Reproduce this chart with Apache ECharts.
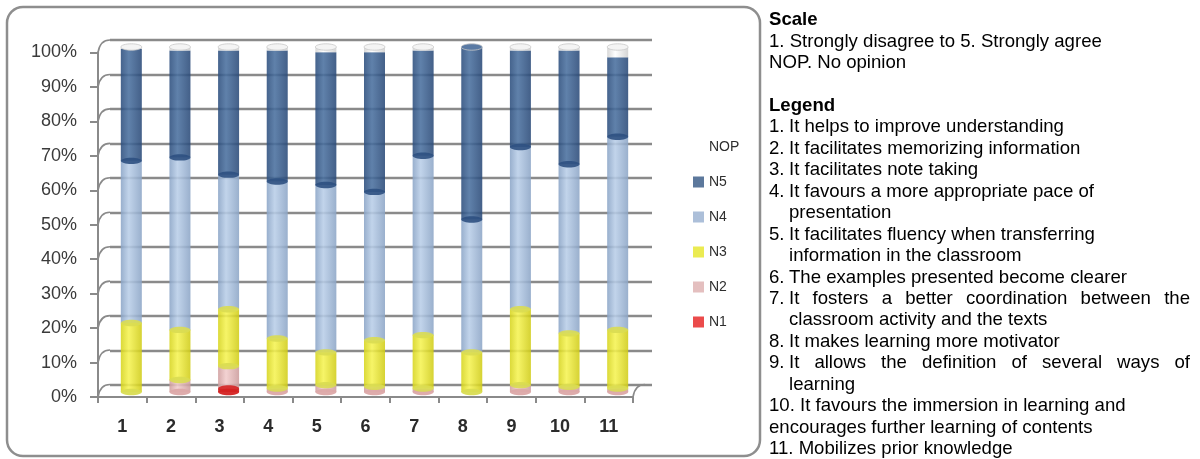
<!DOCTYPE html>
<html>
<head>
<meta charset="utf-8">
<script src="https://cdn.jsdelivr.net/npm/echarts@6/dist/echarts.min.js"></script>
<style>
  html, body { margin: 0; padding: 0; background: #ffffff; }
  #chart { width: 1200px; height: 459px; }
</style>
</head>
<body>
<div id="chart"></div>
<script>
// Survey items (1..11) and the share of answers on each level of the scale (%)
const categories = ['1', '2', '3', '4', '5', '6', '7', '8', '9', '10', '11'];
const n1  = [0,    0,    1,    0,    0,    0,    0,    0,    0,    0,    0];
const n2  = [0,    3.5,  6.5,  1,    2,    1.5,  1,    0,    2,    1.5,  1];
const n3  = [20,   14.5, 16.5, 14.5, 9.5,  13.5, 15.5, 11.5, 22,   15.5, 17];
const n4  = [47,   50,   39,   45.5, 48.5, 43,   52,   38.5, 47,   49,   56];
const n5  = [32.5, 31,   36,   38,   38.5, 40.5, 30.5, 50,   28,   33,   23];
const nop = [0.5,  1,    1,    1,    1.5,  1.5,  1,    0,    1,    1,    3];

const yTicks = [0, 10, 20, 30, 40, 50, 60, 70, 80, 90, 100];
const levelNames = ['N1', 'N2', 'N3', 'N4', 'N5', 'NOP'];
const levelValues = [n1, n2, n3, n4, n5, nop];

// Side notes: scale description and item legend
const scaleTitle = 'Scale';
const scaleLines = ['1. Strongly disagree to 5. Strongly agree', 'NOP. No opinion'];
const legendTitle = 'Legend';
const itemLines = [
  ['1.', 'It helps to improve understanding'],
  ['2.', 'It facilitates memorizing information'],
  ['3.', 'It facilitates note taking'],
  ['4.', 'It favours a more appropriate pace of'],
  ['',   'presentation'],
  ['5.', 'It facilitates fluency when transferring'],
  ['',   'information in the classroom'],
  ['6.', 'The examples presented become clearer'],
  ['7.', 'It fosters a better coordination between the', 'justify'],
  ['',   'classroom activity and the texts'],
  ['8.', 'It makes learning more motivator'],
  ['9.', 'It allows the definition of several ways of', 'justify'],
  ['',   'learning'],
  ['10. It favours the immersion in learning and'],
  ['encourages further learning of contents'],
  ['11. Mobilizes prior knowledge']
];

// Cylinder shading per level: dark edge, highlight, dark edge
const shades = {
  N1:  ['#c41d1d', '#f2514a', '#bf1c1c'],
  N2:  ['#cf9d9d', '#f1cccc', '#cc9c9c'],
  N3:  ['#d6d41e', '#f5f353', '#d0cc18'],
  N4:  ['#8aa4c6', '#b9cee8', '#8ca5c6'],
  N5:  ['#2c4e7d', '#4a709f', '#2a4a78'],
  NOP: ['#d2d2d2', '#ffffff', '#cfcfcf']
};
const capColors = {
  N1: '#d42222', N2: '#dca8a8', N3: '#d9dc52', N4: '#9ab2d0', N5: '#2d5081', NOP: '#efefef'
};
// which colour shows on a boundary face (the stronger of the two neighbours)
const faceRank = { N5: 6, N3: 5, N1: 4, N4: 3, N2: 2, NOP: 1 };
const legendColors = {
  NOP: '#ffffff', N5: '#45658e', N4: '#a0b6d4', N3: '#e8e83a', N2: '#e0b6b6', N1: '#e83232'
};

const AX = '#8a8a8a';
const FONT = '"Liberation Sans", Arial, sans-serif';
const NOTE_SIZE = 18.6;

function cylinderFill(name) {
  const s = shades[name];
  return new echarts.graphic.LinearGradient(0, 0, 1, 0, [
    { offset: 0, color: s[0] },
    { offset: 0.38, color: s[1] },
    { offset: 1, color: s[2] }
  ]);
}

const chart = echarts.init(document.getElementById('chart'), null, { renderer: 'canvas' });

// stacked cylinder bodies
const barSeries = levelNames.map((name, k) => ({
  name: name,
  type: 'bar',
  stack: 'total',
  xAxisIndex: 2,
  yAxisIndex: 2,
  barWidth: 21,
  data: levelValues[k],
  itemStyle: { color: cylinderFill(name), opacity: 0.88 },
  emphasis: { disabled: true },
  z: 3
}));

// elliptic faces at every segment boundary, top and bottom of each cylinder
const capSeries = {
  type: 'custom',
  xAxisIndex: 2,
  yAxisIndex: 2,
  silent: true,
  z: 4,
  clip: false,
  data: categories.map((c, i) => [i].concat(levelValues.map(v => v[i]))),
  renderItem: function (params, api) {
    const i = api.value(0);
    const rx = 10.5, ry = 3.2;
    const children = [];
    const present = [];
    for (let k = 0; k < levelNames.length; k++) {
      const v = api.value(k + 1);
      if (v > 0) present.push({ name: levelNames[k], v: v });
    }
    let cum = 0;
    for (let j = 0; j < present.length - 1; j++) {
      cum += present[j].v;
      const lower = present[j].name, upper = present[j + 1].name;
      if (upper === 'NOP') continue;
      const face = faceRank[upper] >= faceRank[lower] ? upper : lower;
      const p = api.coord([i, cum]);
      children.push({
        type: 'ellipse',
        shape: { cx: p[0], cy: p[1], rx: rx, ry: ry },
        style: { fill: capColors[face], opacity: 0.9 }
      });
    }
    const base = api.coord([i, 0]);
    children.unshift({
      type: 'ellipse',
      shape: { cx: base[0], cy: base[1], rx: rx, ry: ry },
      style: { fill: capColors[present[0].name], opacity: 0.95 }
    });
    const top = api.coord([i, 100]);
    const topName = present[present.length - 1].name;
    children.push({
      type: 'ellipse',
      shape: { cx: top[0], cy: top[1], rx: rx, ry: ry },
      style: {
        fill: topName === 'NOP' ? '#f4f4f4' : '#5a7aa4',
        stroke: '#c8c8c8',
        lineWidth: 0.8
      }
    });
    return { type: 'group', children: children };
  }
};

// curved connectors joining the front axis to the back wall
const connectorSeries = {
  type: 'custom',
  xAxisIndex: 1,
  yAxisIndex: 1,
  silent: true,
  clip: false,
  z: 2,
  data: yTicks.map(v => [0, v]),
  renderItem: function (params, api) {
    const cs = params.coordSys;
    const v = api.value(1);
    const y = api.coord([0, v])[1];
    const mk = (x) => ({
      type: 'bezierCurve',
      shape: { x1: x, y1: y, x2: x + 12, y2: y - 12.5, cpx1: x + 2, cpy1: y - 12.5 },
      style: { stroke: AX, lineWidth: 1.6, fill: null }
    });
    const parts = [mk(cs.x)];
    if (v === 0) parts.push(mk(cs.x + cs.width));
    return { type: 'group', children: parts };
  }
};

// side text block
const measureCtx = document.createElement('canvas').getContext('2d');
function textWidth(t, bold) {
  measureCtx.font = (bold ? 'bold ' : '') + NOTE_SIZE + 'px ' + FONT;
  return measureCtx.measureText(t).width;
}
const TX = 769, TX2 = 789, TXEND = 1190, TY0 = 20, LH = 21.45;
const notes = [];
function addText(text, x, y, bold) {
  notes.push({
    type: 'text',
    x: x, y: y,
    silent: true,
    style: {
      text: text,
      font: (bold ? 'bold ' : '') + NOTE_SIZE + 'px ' + FONT,
      fill: '#000000',
      verticalAlign: 'middle',
      align: 'left'
    }
  });
}
let row = 0;
addText(scaleTitle, TX, TY0 + LH * row++, true);
scaleLines.forEach(t => addText(t, TX, TY0 + LH * row++, false));
row++;
addText(legendTitle, TX, TY0 + LH * row++, true);
itemLines.forEach(line => {
  const y = TY0 + LH * row++;
  if (line.length === 1) { addText(line[0], TX, y, false); return; }
  if (line[0]) addText(line[0], TX, y, false);
  if (line[2] === 'justify') {
    const words = line[1].split(' ');
    const widths = words.map(w => textWidth(w, false));
    const total = widths.reduce((a, b) => a + b, 0);
    const gap = (TXEND - TX2 - total) / (words.length - 1);
    let x = TX2;
    words.forEach((w, j) => { addText(w, x, y, false); x += widths[j] + gap; });
  } else {
    addText(line[1], TX2, y, false);
  }
});

const option = {
  animation: false,
  backgroundColor: '#ffffff',
  legend: {
    orient: 'vertical',
    left: 688,
    top: 135,
    itemWidth: 11,
    itemHeight: 11,
    itemGap: 21,
    icon: 'rect',
    selectedMode: false,
    textStyle: { fontFamily: FONT, fontSize: 14, color: '#2e2e2e' },
    data: ['NOP', 'N5', 'N4', 'N3', 'N2', 'N1'].map(n => ({
      name: n, itemStyle: { color: legendColors[n], borderWidth: 0 }
    }))
  },
  grid: [
    // back wall
    { left: 110, top: 40, width: 542, height: 345 },
    // front axes
    { left: 98, top: 52.5, width: 535, height: 344.5 },
    // cylinders
    { left: 107, top: 47, width: 535, height: 345 }
  ],
  xAxis: [
    { gridIndex: 0, type: 'category', data: categories, show: false },
    {
      gridIndex: 1, type: 'category', data: categories,
      axisLine: { lineStyle: { color: AX, width: 2 } },
      axisTick: { show: true, length: 6, lineStyle: { color: AX, width: 2 } },
      axisLabel: { margin: 21, fontFamily: FONT, fontSize: 18, fontWeight: 'bold', color: '#2b2b2b' },
      splitLine: { show: false }
    },
    { gridIndex: 2, type: 'category', data: categories, show: false }
  ],
  yAxis: [
    {
      gridIndex: 0, type: 'value', min: 0, max: 100, interval: 10,
      axisLine: { show: false }, axisTick: { show: false }, axisLabel: { show: false },
      splitLine: { show: true, lineStyle: { color: AX, width: 2.3 } }
    },
    {
      gridIndex: 1, type: 'value', min: 0, max: 100, interval: 10,
      axisLine: { show: true, lineStyle: { color: AX, width: 2 } },
      axisTick: { show: true, length: 8, lineStyle: { color: AX, width: 2 } },
      axisLabel: { margin: 21, fontFamily: FONT, fontSize: 18, color: '#3a3a3a', formatter: '{value}%' },
      splitLine: { show: false }
    },
    { gridIndex: 2, type: 'value', min: 0, max: 100, show: false, splitLine: { show: false } }
  ],
  graphic: [
    {
      type: 'rect',
      silent: true,
      z: -1,
      shape: { x: 7, y: 7, width: 753, height: 449, r: 16 },
      style: { fill: null, stroke: '#8e8e8e', lineWidth: 2.5 }
    }
  ].concat(notes),
  series: barSeries.concat([capSeries, connectorSeries])
};

chart.setOption(option);
</script>
</body>
</html>
